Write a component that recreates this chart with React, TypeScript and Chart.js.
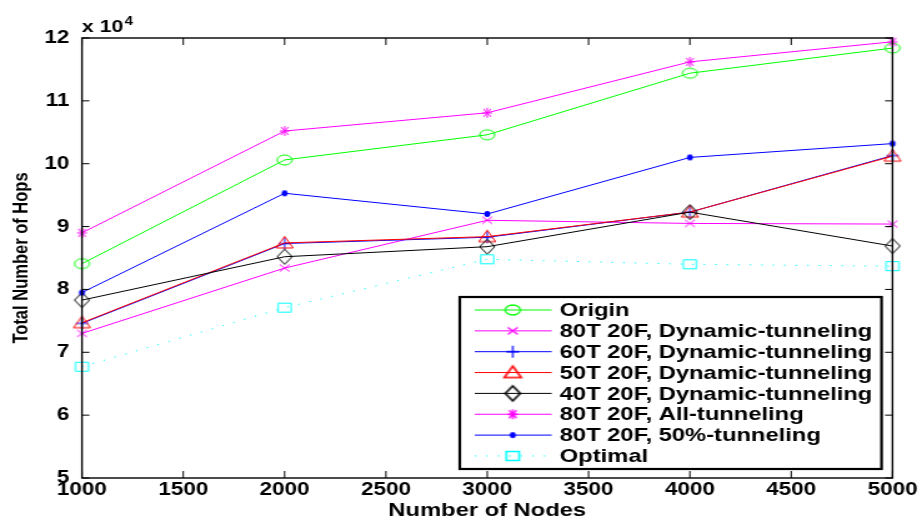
import React, { useEffect, useRef } from 'react';
import { Chart, registerables } from 'chart.js';

Chart.register(...registerables);

// The reference figure is horizontally stretched; draw on a narrower canvas and stretch it with CSS.
const SX = 1.25;
const W = 922;
const H = 522;
const IW = Math.round(W / SX);

const FONT = "'Liberation Sans', Arial, Helvetica, sans-serif";

// ---------- data ----------
const nodes = [1000, 2000, 3000, 4000, 5000];
const origin = [84100, 100600, 104600, 114400, 118400];
const dyn80 = [73000, 83400, 91000, 90500, 90400];
const dyn60 = [74600, 87300, 88300, 92300, 101300];
const dyn50 = [74700, 87400, 88400, 92300, 101200];
const dyn40 = [78300, 85200, 86800, 92300, 86900];
const all80 = [89000, 105200, 108100, 116200, 119400];
const half80 = [79500, 95300, 92000, 101000, 103200];
const optimal = [67700, 77100, 84800, 84000, 83700];

const seriesNames = [
  'Origin',
  '80T 20F, Dynamic-tunneling',
  '60T 20F, Dynamic-tunneling',
  '50T 20F, Dynamic-tunneling',
  '40T 20F, Dynamic-tunneling',
  '80T 20F, All-tunneling',
  '80T 20F, 50%-tunneling',
  'Optimal',
];
const seriesValues = [origin, dyn80, dyn60, dyn50, dyn40, all80, half80, optimal];
const seriesColors = ['#00ff00', '#ff00ff', '#0000ff', '#ff0000', '#000000', '#ff00ff', '#0000ff', '#00ffff'];
const seriesMarkers = ['circle', 'xcross', 'plus', 'triangle', 'diamond', 'star', 'dot', 'square'];

const xMin = 1000;
const xMax = 5000;
const xStep = 500;
const yMin = 50000;
const yMax = 120000;
const yStep = 10000;
const yScaleFactor = 10000;
const exponentBase = 'x 10';
const exponentPower = '4';
const xTitle = 'Number of Nodes';
const yTitle = 'Total Number of Hops';

// ---------- markers ----------
function makeMarker(kind: string, color: string, lw = 1): HTMLCanvasElement {
  const c = document.createElement('canvas');
  c.width = 24;
  c.height = 24;
  const g = c.getContext('2d') as CanvasRenderingContext2D;
  g.translate(12, 12);
  g.strokeStyle = color;
  g.fillStyle = color;
  g.lineWidth = lw;
  g.beginPath();
  switch (kind) {
    case 'circle':
      g.ellipse(0, 0, 6, 5, 0, 0, Math.PI * 2);
      g.stroke();
      break;
    case 'xcross':
      g.moveTo(-4, -3.5); g.lineTo(4, 3.5);
      g.moveTo(-4, 3.5); g.lineTo(4, -3.5);
      g.stroke();
      break;
    case 'plus':
      g.moveTo(-5, 0); g.lineTo(5, 0);
      g.moveTo(0, -6); g.lineTo(0, 6);
      g.stroke();
      break;
    case 'triangle':
      g.moveTo(0, -6.5); g.lineTo(6.8, 5); g.lineTo(-6.8, 5); g.closePath();
      g.stroke();
      break;
    case 'diamond':
      g.moveTo(0, -7.5); g.lineTo(6, 0); g.lineTo(0, 7.5); g.lineTo(-6, 0); g.closePath();
      g.stroke();
      break;
    case 'star':
      g.moveTo(-4, 0); g.lineTo(4, 0);
      g.moveTo(0, -5); g.lineTo(0, 5);
      g.moveTo(-3, -4); g.lineTo(3, 4);
      g.moveTo(-3, 4); g.lineTo(3, -4);
      g.stroke();
      break;
    case 'dot':
      g.ellipse(0, 0, 2.4, 3, 0, 0, Math.PI * 2);
      g.fill();
      break;
    case 'square':
      g.rect(-5.2, -4.5, 10.4, 9);
      g.stroke();
      break;
  }
  return c;
}

// ---------- plugin: MATLAB-like box, inward ticks, legend, exponent ----------
const matlabPlugin = {
  id: 'matlabDecor',
  afterDatasetsDraw(chart: any) {
    const ctx: CanvasRenderingContext2D = chart.ctx;
    const { left, right, top, bottom } = chart.chartArea;
    const xs = chart.scales.x;
    const ys = chart.scales.y;
    ctx.save();
    // box
    ctx.strokeStyle = '#000';
    ctx.lineWidth = 1.4;
    ctx.strokeRect(left, top, right - left, bottom - top);
    // inward ticks
    ctx.lineWidth = 1;
    ctx.beginPath();
    xs.ticks.forEach((t: any) => {
      const px = xs.getPixelForValue(t.value);
      ctx.moveTo(px, bottom); ctx.lineTo(px, bottom - 7);
      ctx.moveTo(px, top); ctx.lineTo(px, top + 7);
    });
    ys.ticks.forEach((t: any) => {
      const py = ys.getPixelForValue(t.value);
      ctx.moveTo(left, py); ctx.lineTo(left + 6, py);
      ctx.moveTo(right, py); ctx.lineTo(right - 6, py);
    });
    ctx.stroke();

    // exponent label
    ctx.fillStyle = '#000';
    ctx.textBaseline = 'alphabetic';
    ctx.textAlign = 'left';
    ctx.font = `bold 17px ${FONT}`;
    ctx.fillText(exponentBase, left, 32);
    const wBase = ctx.measureText(exponentBase).width;
    ctx.font = `bold 12px ${FONT}`;
    ctx.fillText(exponentPower, left + wBase + 1, 25);

    // legend
    const lx0 = 368;
    const lx1 = 705.6;
    const ly0 = 297;
    const ly1 = 469;
    ctx.fillStyle = '#fff';
    ctx.fillRect(lx0, ly0, lx1 - lx0, ly1 - ly0);
    ctx.strokeStyle = '#000';
    ctx.lineWidth = 2.2;
    ctx.strokeRect(lx0, ly0, lx1 - lx0, ly1 - ly0);
    chart.data.datasets.forEach((ds: any, i: number) => {
      const y = 310 + i * 20.85;
      ctx.save();
      ctx.strokeStyle = ds.borderColor;
      ctx.lineWidth = ds.borderWidth;
      ctx.setLineDash(ds.borderDash || []);
      ctx.beginPath();
      ctx.moveTo(380, y);
      ctx.lineTo(441.6, y);
      ctx.stroke();
      ctx.restore();
      const m = ds.legendMarker as HTMLCanvasElement;
      ctx.drawImage(m, 410.4 - m.width / 2, y - m.height / 2);
      ctx.fillStyle = '#000';
      ctx.font = `bold 19px ${FONT}`;
      ctx.textBaseline = 'middle';
      ctx.textAlign = 'left';
      ctx.fillText(ds.label, 448, y + 1);
    });
    ctx.restore();
  },
};

export default function App() {
  const ref = useRef<HTMLCanvasElement | null>(null);

  useEffect(() => {
    document.body.style.margin = '0';
    const canvas = ref.current;
    if (!canvas) return;
    const datasets = seriesNames.map((name, i) => ({
      label: name,
      data: nodes.map((n, j) => ({ x: n, y: seriesValues[i][j] })),
      borderColor: seriesColors[i],
      backgroundColor: seriesColors[i],
      borderWidth: 1,
      borderDash: name === 'Optimal' ? [1.2, 8] : [],
      pointStyle: makeMarker(seriesMarkers[i], seriesColors[i]),
      legendMarker: makeMarker(seriesMarkers[i], seriesColors[i], seriesMarkers[i] === 'diamond' || seriesMarkers[i] === 'triangle' || seriesMarkers[i] === 'square' ? 1.6 : 1.3),
      pointRadius: 5,
      tension: 0,
      fill: false,
      clip: false as any,
      order: seriesNames.length - i,
    }));

    const chart = new Chart(canvas, {
      type: 'line',
      data: { datasets } as any,
      options: {
        responsive: false,
        animation: false,
        events: [],
        devicePixelRatio: 1,
        layout: { padding: { left: 0, top: 38, right: IW - 893 / SX, bottom: 0 } },
        plugins: {
          legend: { display: false },
          tooltip: { enabled: false },
        },
        scales: {
          x: {
            type: 'linear',
            min: xMin,
            max: xMax,
            grid: { display: false, drawTicks: false },
            border: { display: false },
            ticks: {
              stepSize: xStep,
              autoSkip: false,
              maxRotation: 0,
              padding: 1,
              color: '#000',
              font: { family: FONT, size: 18, weight: 'bold' },
              callback: (v: any) => String(v),
            },
            title: {
              display: true,
              text: xTitle,
              color: '#000',
              padding: { top: 0, bottom: 0 },
              font: { family: FONT, size: 19, weight: 'bold' },
            },
            afterFit: (s: any) => { s.height = 44; },
          },
          y: {
            type: 'linear',
            min: yMin,
            max: yMax,
            grid: { display: false, drawTicks: false },
            border: { display: false },
            ticks: {
              stepSize: yStep,
              padding: 10,
              color: '#000',
              font: { family: FONT, size: 18, weight: 'bold' },
              callback: (v: any) => String(Number(v) / yScaleFactor),
            },
            title: {
              display: true,
              text: yTitle,
              color: '#000',
              padding: { top: 8, bottom: 0 },
              font: { family: FONT, size: 16.5, weight: 'bold' },
            },
            afterFit: (s: any) => { s.width = 82 / SX; },
          },
        },
      } as any,
      plugins: [matlabPlugin],
    });
    return () => chart.destroy();
  }, []);

  return (
    <div style={{ position: 'absolute', left: 0, top: 0, width: W, height: H, background: '#fff' }}>
      <canvas
        ref={ref}
        width={IW}
        height={H}
        style={{ width: W + 'px', height: H + 'px', display: 'block' }}
      />
    </div>
  );
}
